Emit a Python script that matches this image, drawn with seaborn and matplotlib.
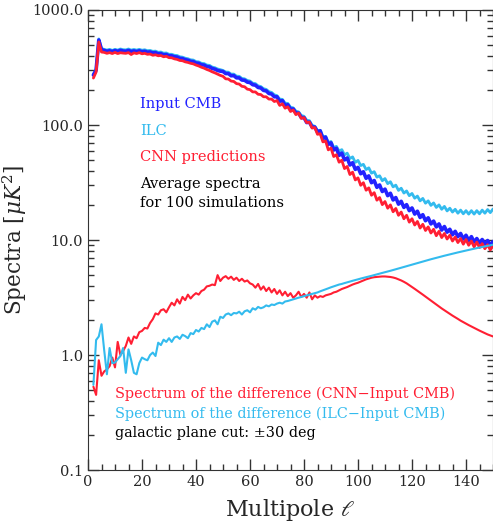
import numpy as np
import pandas as pd
import matplotlib
matplotlib.use("Agg")
import matplotlib.pyplot as plt
import seaborn as sns
from matplotlib.ticker import MultipleLocator, LogLocator, NullFormatter

# multipoles 2..150
ell = list(range(2, 151))

input_cmb = [
    272, 300, 548, 452, 445, 438, 442, 436, 444, 437, 446, 440, 438, 445, 436, 441, 435, 442, 434,
    438, 430, 432, 424, 426, 416, 418, 408, 410, 400, 400, 392, 390, 380, 378, 370, 366, 358, 356,
    346, 344, 334, 332, 322, 320, 310, 306, 298, 294,
    292, 280, 280, 268, 269, 257, 257, 246, 245, 236, 234, 224, 222, 212, 210, 200, 198, 188, 186,
    176, 176, 161, 163, 148, 150, 137,
    138, 127, 127, 116, 116, 105, 106, 96, 96, 87,
    89, 76.4, 78.4, 67.8, 70.0, 60.6, 62.7, 54.4, 57.0, 49.7,
    51.7, 44.9, 47.0, 41.1, 42.8, 37.7, 39.2, 34.4, 36.1, 31.5,
    32.9, 28.7, 30.1, 26.4, 27.7, 24.3, 25.5, 22.3, 23.4, 20.5,
    21.7, 19.2, 20.3, 18.0, 19.0, 16.8, 17.8, 15.7, 16.6, 14.7,
    15.6, 13.8, 14.6, 13.0, 13.8, 12.2, 13.1, 11.7, 12.4, 11.1,
    11.9, 10.7, 11.4, 10.2, 11.0, 9.9, 10.7, 9.6, 10.3, 9.4,
    10.1, 9.2, 9.9, 9.0, 9.7,
]

ilc = [
    275, 305, 560, 462, 455, 448, 455, 445, 455, 448, 458, 452, 450, 458, 448, 454, 448, 455, 447,
    451, 443, 445, 437, 439, 429, 431, 421, 423, 412, 412, 404, 402, 392, 389, 381, 377, 369, 367,
    356, 354, 344, 342, 332, 330, 319, 315, 307, 303,
    298, 289, 288, 277, 277, 266, 265, 254, 252, 244, 241, 231, 229, 219, 216, 207, 204, 195, 192,
    183, 180, 168, 167, 155, 154, 143,
    141, 132, 130, 121, 119, 110, 109, 99.5, 97.4, 89.6,
    90.0, 79.1, 79.7, 70.4, 71.9, 63.7, 65.2, 59.3, 61.1, 55.0,
    56.9, 51.1, 52.8, 47.3, 49.2, 44.4, 45.5, 41.0, 42.4, 38.1,
    39.3, 35.2, 36.2, 32.8, 34.2, 30.9, 32.1, 29.0, 30.0, 27.0,
    28.2, 25.6, 26.7, 24.3, 25.4, 23.1, 24.1, 21.9, 23.0, 20.9,
    21.9, 20.0, 21.0, 19.2, 20.2, 18.5, 19.6, 17.9, 18.9, 17.5,
    18.5, 17.1, 18.2, 16.9, 18.0, 16.8, 18.0, 16.8, 18.0, 16.9,
    18.2, 17.1, 18.4, 17.3, 18.6,
]

cnn = [
    256, 289, 527, 431, 428, 420, 426, 418, 428, 418, 425, 422, 420, 426, 410, 424, 418, 426, 416,
    420, 412, 414, 404, 408, 400, 402, 392, 396, 385, 384, 376, 372, 364, 362, 354, 350, 344, 340,
    332, 326, 318, 312, 304, 298, 290, 284, 277, 270,
    265, 252, 251, 241, 239, 229, 227, 217, 215, 205, 203, 194, 194, 185, 184, 176, 176, 168, 168,
    160, 163, 148, 153, 140, 144, 131,
    135, 123, 127, 114, 116, 105, 106, 94, 95, 83,
    84.0, 71.3, 72.5, 60.8, 63.0, 53.2, 55.1, 47.5, 49.4, 41.8,
    43.6, 37.1, 38.9, 33.3, 34.7, 29.9, 31.5, 27.1, 28.4, 24.5,
    25.8, 22.2, 23.4, 20.3, 21.6, 18.9, 20.2, 17.6, 18.8, 16.4,
    17.5, 15.3, 16.4, 14.3, 15.3, 13.5, 14.5, 12.7, 13.7, 12.1,
    13.0, 11.5, 12.4, 10.9, 11.9, 10.5, 11.4, 10.2, 11.0, 9.8,
    10.6, 9.5, 10.3, 9.2, 10.1, 9.0, 9.8, 8.7, 9.6, 8.6,
    9.3, 8.4, 9.1, 8.2, 8.9,
]

diff_cnn = [
    0.53, 0.45, 0.90, 0.66, 0.72, 0.75, 0.80, 0.95, 0.78, 1.30, 1.00, 1.08, 1.20, 1.42, 1.25, 1.45,
    1.40, 1.58, 1.62, 1.72, 1.70, 1.90, 2.05, 2.30, 2.25, 2.45, 2.50, 2.35, 2.60, 2.85, 2.70, 3.05,
    2.80, 3.20, 3.00, 3.35, 3.10, 3.30, 3.45, 3.35, 3.60, 3.70, 3.95, 4.00, 4.10, 4.05, 4.95, 4.40,
    4.70, 4.85, 4.60, 4.80, 4.50, 4.70, 4.40, 4.60, 4.35, 4.45, 4.20, 4.10, 3.85, 4.15, 3.70, 3.95,
    3.60, 3.85, 3.50, 3.75, 3.40, 3.65, 3.30, 3.55, 3.25, 3.45, 3.15, 3.30, 3.55, 3.20, 3.40, 3.15,
    3.50, 3.05, 3.30, 3.15, 3.25, 3.20, 3.30, 3.35, 3.40, 3.50, 3.55, 3.65, 3.75, 3.82, 3.90, 4.00,
    4.10, 4.18, 4.25, 4.35, 4.45, 4.55, 4.62, 4.70, 4.75, 4.78, 4.80, 4.82, 4.82, 4.80, 4.77, 4.72,
    4.65, 4.55, 4.45, 4.33, 4.20, 4.05, 3.90, 3.76, 3.62, 3.48, 3.35, 3.22, 3.10, 2.98, 2.86, 2.75,
    2.64, 2.54, 2.45, 2.36, 2.28, 2.20, 2.13, 2.06, 1.99, 1.93, 1.87, 1.82, 1.77, 1.72, 1.67, 1.63,
    1.59, 1.55, 1.51, 1.48, 1.45,
]

diff_ilc = [
    0.55, 1.35, 1.45, 1.85, 1.10, 0.68, 1.15, 0.85, 0.86, 0.92, 0.98, 1.15, 0.70, 1.12, 0.90, 0.70,
    0.68, 0.85, 0.95, 0.92, 0.90, 1.00, 1.05, 0.98, 1.28, 1.22, 1.36, 1.30, 1.40, 1.30, 1.42, 1.45,
    1.38, 1.50, 1.46, 1.40, 1.55, 1.52, 1.65, 1.60, 1.72, 1.68, 1.85, 1.75, 1.95, 2.00, 1.85, 2.15,
    2.10, 2.25, 2.30, 2.22, 2.32, 2.30, 2.38, 2.25, 2.40, 2.45, 2.35, 2.55, 2.48, 2.62, 2.55, 2.60,
    2.70, 2.65, 2.75, 2.72, 2.80, 2.85, 2.80, 2.92, 2.95, 3.00, 3.05, 3.10, 3.15, 3.20, 3.25, 3.30,
    3.35, 3.40, 3.45, 3.50, 3.58, 3.65, 3.72, 3.80, 3.88, 3.95, 4.02, 4.10, 4.15, 4.22, 4.28, 4.35,
    4.42, 4.48, 4.55, 4.62, 4.68, 4.75, 4.82, 4.88, 4.95, 5.02, 5.10, 5.18, 5.25, 5.32, 5.40, 5.48,
    5.56, 5.65, 5.74, 5.83, 5.92, 6.01, 6.10, 6.20, 6.30, 6.40, 6.50, 6.60, 6.70, 6.80, 6.90, 7.00,
    7.10, 7.20, 7.30, 7.40, 7.50, 7.60, 7.70, 7.80, 7.90, 8.00, 8.10, 8.20, 8.30, 8.40, 8.50, 8.60,
    8.70, 8.80, 8.90, 9.00, 9.10,
]

ytick_vals = [0.1, 1.0, 10.0, 100.0, 1000.0]
ytick_labels = ["0.1", "1.0", "10.0", "100.0", "1000.0"]

BLUE = "#2222ff"
CYAN = "#33bbee"
RED = "#ff1f33"

sns.set_style("ticks")
plt.rcParams["font.family"] = ["DejaVu Serif"]
plt.rcParams["mathtext.fontset"] = "dejavuserif"

df = pd.DataFrame({"ell": ell, "input": input_cmb, "ilc": ilc, "cnn": cnn,
                   "dcnn": diff_cnn, "dilc": diff_ilc})

fig = plt.figure(figsize=(4.93, 5.29), dpi=100)
ax = fig.add_axes([0.1785, 0.1115, 0.8215, 0.8696])

sns.lineplot(data=df, x="ell", y="ilc", color=CYAN, lw=2.0, ax=ax)
sns.lineplot(data=df, x="ell", y="input", color=BLUE, lw=2.6, ax=ax)
sns.lineplot(data=df, x="ell", y="cnn", color=RED, lw=2.0, ax=ax)
sns.lineplot(data=df, x="ell", y="dcnn", color=RED, lw=1.5, ax=ax)
sns.lineplot(data=df, x="ell", y="dilc", color=CYAN, lw=1.5, ax=ax)

ax.set_yscale("log")
ax.set_xlim(0, 150)
ax.set_ylim(0.1, 1000)
ax.set_yticks(ytick_vals)
ax.set_yticklabels(ytick_labels)
ax.yaxis.set_minor_locator(LogLocator(base=10, subs=np.arange(2, 10)))
ax.yaxis.set_minor_formatter(NullFormatter())
ax.xaxis.set_major_locator(MultipleLocator(20))
ax.xaxis.set_minor_locator(MultipleLocator(5))
ax.tick_params(which="both", direction="in", top=True, right=True, labelsize=10.5, color="#333333")
ax.tick_params(which="major", length=8, width=1)
ax.tick_params(which="minor", length=4, width=1)
for s in ax.spines.values():
    s.set_color("#333333")

ax.set_xlabel("Multipole $\\ell$", fontsize=16, labelpad=6)
ax.set_ylabel("Spectra [$\\mu K^2$]", fontsize=15.5, labelpad=2)

ax.text(0.128, 0.796, "Input CMB", color=BLUE, fontsize=10.5, va="center", transform=ax.transAxes)
ax.text(0.128, 0.737, "ILC", color=CYAN, fontsize=10.5, va="center", transform=ax.transAxes)
ax.text(0.128, 0.680, "CNN predictions", color=RED, fontsize=10.5, va="center", transform=ax.transAxes)
ax.text(0.128, 0.622, "Average spectra", color="black", fontsize=10.5, va="center", transform=ax.transAxes)
ax.text(0.128, 0.580, "for 100 simulations", color="black", fontsize=10.5, va="center", transform=ax.transAxes)

ax.text(0.067, 0.165, "Spectrum of the difference (CNN\u2212Input CMB)", color=RED, fontsize=10.4,
        va="center", transform=ax.transAxes)
ax.text(0.067, 0.122, "Spectrum of the difference (ILC\u2212Input CMB)", color=CYAN, fontsize=10.4,
        va="center", transform=ax.transAxes)
ax.text(0.067, 0.080, "galactic plane cut: \u00b130 deg", color="black", fontsize=10.4,
        va="center", transform=ax.transAxes)

fig.savefig("out.png", dpi=100)
